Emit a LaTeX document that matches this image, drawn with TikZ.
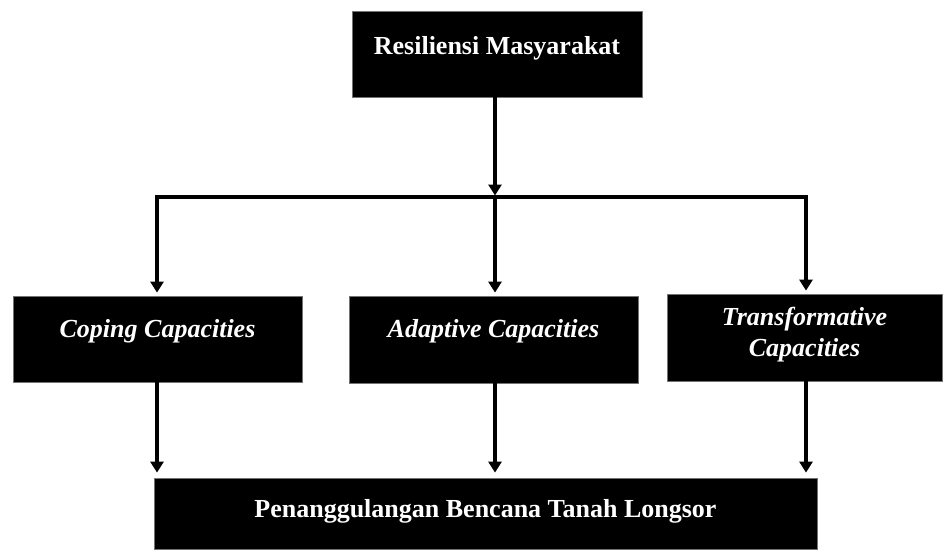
\documentclass[tikz,border=0pt]{standalone}
\usepackage{fontspec}
\setmainfont{Liberation Serif}
\usetikzlibrary{arrows.meta,calc}
\begin{document}
\begin{tikzpicture}[x=1pt,y=-1pt,
  box/.style={draw=black!55,line width=0.8pt,fill=black,text=white,inner sep=0pt,
    font=\fontsize{26}{31}\selectfont\bfseries},
  itbox/.style={box,font=\fontsize{26}{31}\selectfont\bfseries\itshape},
  conn/.style={line width=3.2pt},
  arr/.style={line width=3.2pt,-{Triangle[length=11pt,width=13pt]}}]
\useasboundingbox (0,0) rectangle (945,552);
\node[box,minimum width=290pt,text height=43pt,text depth=43pt] (top) at (497,54) {Resiliensi Masyarakat};
\node[itbox,minimum width=289pt,text height=41pt,text depth=45pt] (lb) at (157.5,339) {Coping Capacities};
\node[itbox,minimum width=289pt,text height=41pt,text depth=46pt] (mb) at (493.5,339.5) {Adaptive Capacities};
\node[itbox,minimum width=275pt,text height=62.5pt,text depth=24.5pt,align=center] (rb) at (804.5,337.5) {Transformative\\Capacities};
\node[box,minimum width=663pt,text height=39pt,text depth=32pt] (bot) at (485.5,513.5) {Penanggulangan Bencana Tanah Longsor};
\coordinate (jt) at (495,197);
\coordinate (jl) at (157,197);
\coordinate (jr) at (806,197);
\draw[arr,shorten >=1.5pt] (top.south -| jt) -- (jt);
\draw[arr,shorten >=3pt] (jt) -- (jl) -- (lb.north -| jl);
\draw[arr,shorten >=3pt] (jt) -- (jr) -- (rb.north -| jr);
\draw[arr,shorten >=3pt] (jt) -- (mb.north -| jt);
\draw[arr,shorten >=5pt] (lb.south -| jl) -- (bot.north -| jl);
\draw[arr,shorten >=5pt] (mb.south -| jt) -- (bot.north -| jt);
\draw[arr,shorten >=5pt] (rb.south -| jr) -- (bot.north -| jr);
\end{tikzpicture}
\end{document}
